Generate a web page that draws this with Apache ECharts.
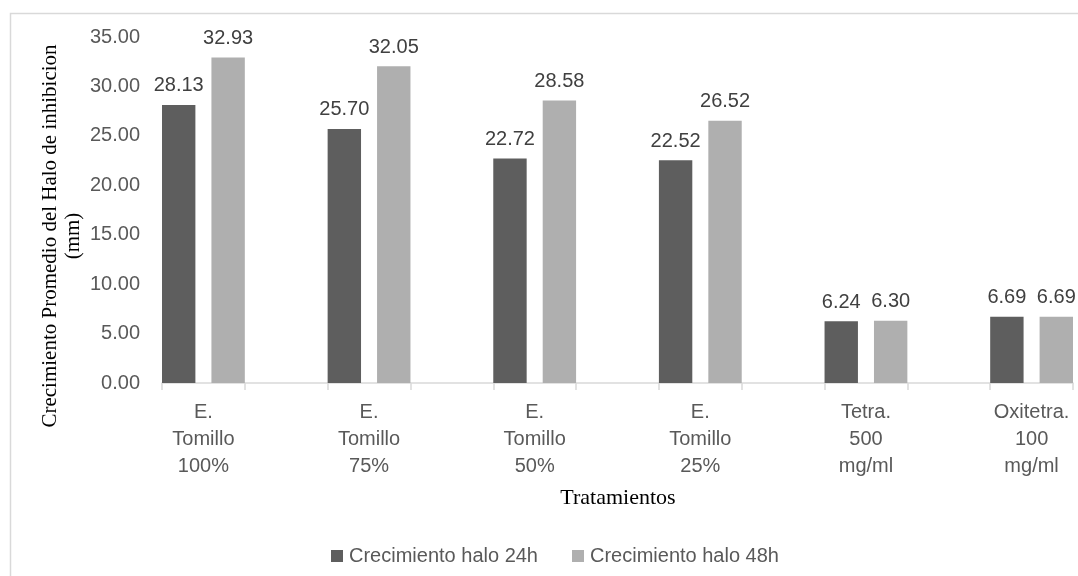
<!DOCTYPE html>
<html>
<head>
<meta charset="utf-8">
<script src="https://cdn.jsdelivr.net/npm/echarts@6/dist/echarts.min.js"></script>
<style>
  html, body { margin: 0; padding: 0; background: #ffffff; }
  #chart { width: 1078px; height: 576px; }
</style>
</head>
<body>
<div id="chart"></div>
<script>
// Treatments on the category axis (one label per pair of bars)
const categories = [
  'E.\nTomillo\n100%',
  'E.\nTomillo\n75%',
  'E.\nTomillo\n50%',
  'E.\nTomillo\n25%',
  'Tetra.\n500\nmg/ml',
  'Oxitetra.\n100\nmg/ml'
];
// Mean inhibition halo growth (mm)
const halo24h = [28.13, 25.70, 22.72, 22.52, 6.24, 6.69];
const halo48h = [32.93, 32.05, 28.58, 26.52, 6.30, 6.69];
const seriesNames = ['Crecimiento halo 24h', 'Crecimiento halo 48h'];
const yTicks = { min: 0, max: 35, step: 5 };

const yTitle = 'Crecimiento Promedio del Halo de inhibicion';
const yTitleUnit = '(mm)';
const xTitle = 'Tratamientos';

// Each treatment is followed by an empty slot so the pairs are spaced apart
const slots = [];
const s24 = [];
const s48 = [];
categories.forEach((c, i) => {
  slots.push(c); s24.push(halo24h[i]); s48.push(halo48h[i]);
  if (i < categories.length - 1) { slots.push(''); s24.push('-'); s48.push('-'); }
});

const sans = '"Liberation Sans", Arial, sans-serif';
const serif = '"Liberation Serif", "Times New Roman", serif';

const chart = echarts.init(document.getElementById('chart'), null, { renderer: 'canvas' });

const valueLabel = {
  show: true,
  position: 'top',
  distance: 9,
  fontFamily: sans,
  fontSize: 20,
  color: '#404040',
  formatter: p => Number(p.value).toFixed(2)
};

chart.setOption({
  animation: false,
  backgroundColor: '#ffffff',
  grid: { left: 162, right: 5, top: 37, bottom: 193, containLabel: false },
  legend: {
    left: 326,
    top: 541,
    itemWidth: 12,
    itemHeight: 12,
    itemGap: 34,
    icon: 'rect',
    textStyle: { fontFamily: sans, fontSize: 20, color: '#595959', padding: [0, 0, 0, 1] },
    data: seriesNames
  },
  xAxis: {
    type: 'category',
    data: slots,
    boundaryGap: true,
    axisLine: { show: true, lineStyle: { color: '#d9d9d9', width: 1.5 } },
    axisTick: { show: true, interval: 0, length: 7, lineStyle: { color: '#d9d9d9', width: 1.5 } },
    axisLabel: {
      interval: 0,
      margin: 16,
      fontFamily: sans,
      fontSize: 20,
      lineHeight: 27,
      color: '#595959',
      align: 'center'
    }
  },
  yAxis: {
    type: 'value',
    min: yTicks.min,
    max: yTicks.max,
    interval: yTicks.step,
    axisLine: { show: false },
    axisTick: { show: false },
    splitLine: { show: false },
    axisLabel: {
      margin: 22,
      fontFamily: sans,
      fontSize: 20,
      color: '#595959',
      formatter: v => v.toFixed(2)
    }
  },
  series: [
    {
      name: seriesNames[0],
      type: 'bar',
      data: s24,
      barCategoryGap: '0%',
      barGap: '48%',
      itemStyle: { color: '#5e5e5e' },
      label: valueLabel
    },
    {
      name: seriesNames[1],
      type: 'bar',
      data: s48,
      barCategoryGap: '0%',
      barGap: '48%',
      itemStyle: { color: '#afafaf' },
      label: valueLabel
    }
  ],
  graphic: [
    {
      type: 'rect',
      silent: true,
      shape: { x: 10.5, y: 13.5, width: 1200, height: 700 },
      style: { fill: 'none', stroke: '#d9d9d9', lineWidth: 1.5 }
    },
    {
      type: 'text',
      x: 50, y: 236,
      rotation: Math.PI / 2,
      style: {
        text: yTitle, fontFamily: serif, fontSize: 21, fill: '#000000',
        textAlign: 'center', textVerticalAlign: 'middle'
      }
    },
    {
      type: 'text',
      x: 73, y: 236,
      rotation: Math.PI / 2,
      style: {
        text: yTitleUnit, fontFamily: serif, fontSize: 21, fill: '#000000',
        textAlign: 'center', textVerticalAlign: 'middle'
      }
    },
    {
      type: 'text',
      x: 618, y: 498,
      style: {
        text: xTitle, fontFamily: serif, fontSize: 22, fill: '#000000',
        textAlign: 'center', textVerticalAlign: 'middle'
      }
    }
  ]
});
</script>
</body>
</html>
